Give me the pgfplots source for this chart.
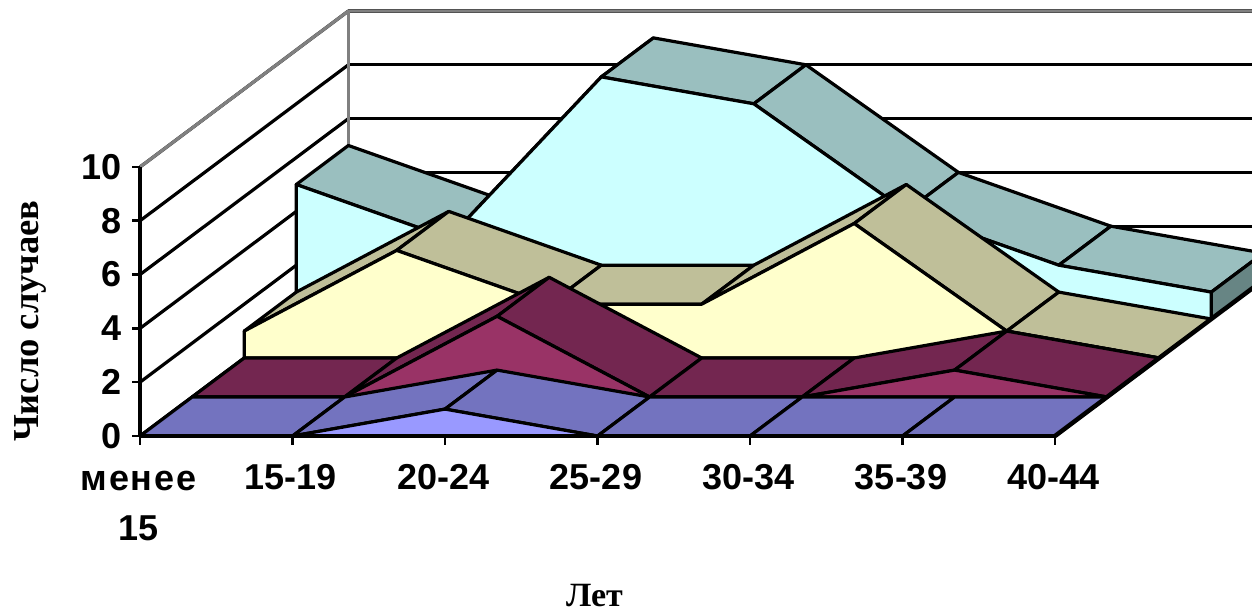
\documentclass[border=0pt]{standalone}
\usepackage{fontspec}
\setmainfont{Liberation Sans}
\newfontfamily\serbold[BoldFont={Liberation Serif Bold}]{Liberation Serif}
\usepackage{pgfplots}
\pgfplotsset{compat=1.18}

\definecolor{s1front}{HTML}{9999FF}
\definecolor{s1top}{HTML}{7373BF}
\definecolor{s2front}{HTML}{993366}
\definecolor{s2top}{HTML}{732650}
\definecolor{s3front}{HTML}{FFFFCC}
\definecolor{s3top}{HTML}{BFBF99}
\definecolor{s4front}{HTML}{CCFFFF}
\definecolor{s4top}{HTML}{9ABFBF}
\definecolor{s4side}{HTML}{678584}

% #1,#2 front and back depth, #3,#4 and #5,#6 x and value at both ends, #7 colour
\newcommand{\strip}[7]{\addplot3[draw=black,fill=#7] coordinates {(#3,#1,#4) (#3,#2,#4) (#5,#2,#6) (#5,#1,#6)} --cycle;}
\newcommand{\xtickmark}[1]{\draw[black,line width=2.6pt] (axis cs:#1,0,0) -- (axis cs:#1,0,-0.33);}
\newcommand{\ztickmark}[1]{\draw[black,line width=2.6pt] (axis cs:0,0,#1) -- (axis cs:-0.055,0,#1);}

\begin{document}
\begin{tikzpicture}[line join=round]
\begin{axis}[
    x={(152.5pt,0pt)}, y={(52.1pt,39pt)}, z={(0pt,26.9pt)},
    xmin=0, xmax=6, ymin=0, ymax=4, zmin=0, zmax=10,
    clip=false,
    axis lines=left,
    axis y line=none,
    axis line style={line width=3.2pt,-},
    xtick={0,...,6}, ytick=\empty, ztick={0,2,...,10},
    xticklabels={{\rule{0pt}{26pt}\addfontfeature{LetterSpace=5}менее\\15},15-19,20-24,25-29,30-34,35-39,40-44},
    major tick length=0pt,
    zmajorgrids,
    major grid style={black,line width=3.2pt},
    /pgf/number format/assume math mode=true,
    xticklabel style={font=\bfseries\fontsize{36}{50}\selectfont,align=center,anchor=north,yshift=-25pt,xshift=-1.5pt},
    zticklabel style={font=\bfseries\fontsize{36}{42}\selectfont,anchor=east,xshift=-15pt},
    zlabel={Число случаев}, xlabel={Лет},
    every axis z label/.style={at={(axis cs:-0.72,0,4.27)},rotate=90,anchor=center,font=\serbold\bfseries\fontsize{36.5}{42}\selectfont},
    every axis x label/.style={at={(axis cs:2.98,0,-5.93)},anchor=center,inner sep=0pt,font=\serbold\bfseries\fontsize{34}{38}\selectfont},
    every axis plot/.append style={line width=3.2pt,mark=none},
]
\coordinate (org) at (axis cs:0,0,0);

% top of the walls
\addplot3[draw=gray] coordinates {(0,0,10) (0,4,10) (7,4,10)};
\addplot3[draw=gray] coordinates {(0,4,10) (0,4,0)};

% back series
\strip{3}{4}{0}{5}{1}{3}{s4top}
\strip{3}{4}{1}{3}{2}{9}{s4top}
\strip{3}{4}{2}{9}{3}{8}{s4top}
\strip{3}{4}{3}{8}{4}{4}{s4top}
\strip{3}{4}{4}{4}{5}{2}{s4top}
\strip{3}{4}{5}{2}{6}{1}{s4top}
\addplot3[draw=black,fill=s4side] coordinates {(6,3,0) (6,4,0) (6,4,1) (6,3,1)} --cycle;
\addplot3[draw=black,fill=s4front] coordinates {(0,3,0) (0,3,5) (1,3,3) (2,3,9) (3,3,8) (4,3,4) (5,3,2) (6,3,1) (6,3,0)} --cycle;

\strip{2}{3}{0}{1}{1}{4}{s3top}
\strip{2}{3}{1}{4}{2}{2}{s3top}
\strip{2}{3}{2}{2}{3}{2}{s3top}
\strip{2}{3}{3}{2}{4}{5}{s3top}
\strip{2}{3}{4}{5}{5}{1}{s3top}
\strip{2}{3}{5}{1}{6}{0}{s3top}
\addplot3[draw=black,fill=s3front] coordinates {(0,2,0) (0,2,1) (1,2,4) (2,2,2) (3,2,2) (4,2,5) (5,2,1) (6,2,0)} --cycle;

\strip{1}{2}{0}{0}{1}{0}{s2top}
\strip{1}{2}{1}{0}{2}{3}{s2top}
\strip{1}{2}{2}{3}{3}{0}{s2top}
\strip{1}{2}{3}{0}{4}{0}{s2top}
\strip{1}{2}{4}{0}{5}{1}{s2top}
\strip{1}{2}{5}{1}{6}{0}{s2top}
\addplot3[draw=black,fill=s2front] coordinates {(0,1,0) (1,1,0) (2,1,3) (3,1,0) (4,1,0) (5,1,1) (6,1,0)} --cycle;

\strip{0}{1}{0}{0}{1}{0}{s1top}
\strip{0}{1}{1}{0}{2}{1}{s1top}
\strip{0}{1}{2}{1}{3}{0}{s1top}
\strip{0}{1}{3}{0}{4}{0}{s1top}
\strip{0}{1}{4}{0}{5}{0}{s1top}
\strip{0}{1}{5}{0}{6}{0}{s1top}
\addplot3[draw=black,fill=s1front] coordinates {(0,0,0) (1,0,0) (2,0,1) (3,0,0) (4,0,0) (5,0,0) (6,0,0)} --cycle;

% floor edges in front of the areas
\addplot3[draw=black,line width=4.5pt] coordinates {(0,0,0) (6,0,0)};
\addplot3[draw=black,line width=4.5pt] coordinates {(6,0,0) (6,4,0)};
\addplot3[draw=black,line width=3.2pt] coordinates {(0,0,0) (0,0,10)};

% tick marks
\xtickmark{0}\xtickmark{1}\xtickmark{2}\xtickmark{3}\xtickmark{4}\xtickmark{5}\xtickmark{6}
\ztickmark{0}\ztickmark{2}\ztickmark{4}\ztickmark{6}\ztickmark{8}\ztickmark{10}
\end{axis}
\pgfresetboundingbox
\path[use as bounding box] ([shift={(-140pt,-176pt)}]org) rectangle ++(1252pt,612pt);
\end{tikzpicture}
\end{document}
